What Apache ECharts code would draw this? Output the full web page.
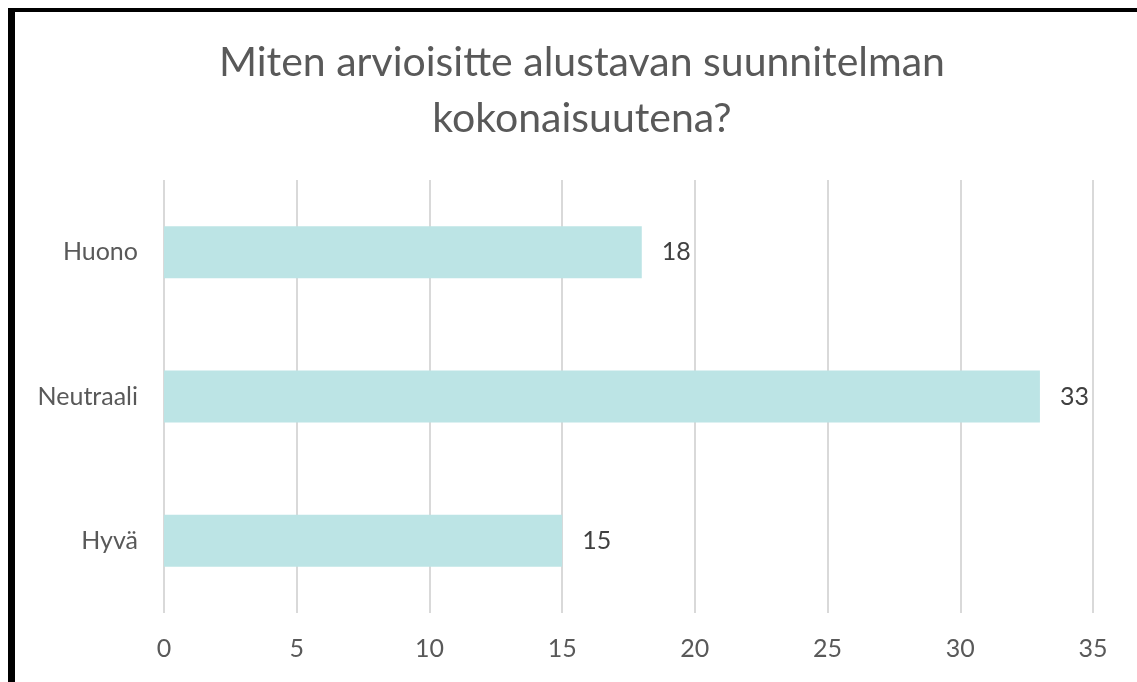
<!DOCTYPE html>
<html>
<head>
<meta charset="utf-8">
<script src="https://cdn.jsdelivr.net/npm/echarts@6/dist/echarts.min.js"></script>
<style>
    html, body { margin: 0; padding: 0; background: #fff; }
    #frame {
        position: absolute; left: 8px; top: 8px; width: 1129px; height: 674px;
        border-left: 7px solid #000; border-top: 4px solid #000; box-sizing: border-box;
    }
    #chart { position: absolute; left: 0; top: 0; width: 1137px; height: 682px; }
</style>
</head>
<body>
<div id="frame"></div>
<div id="chart"></div>
<script>
    const titleText = 'Miten arvioisitte alustavan suunnitelman\nkokonaisuutena?';
    const categories = ['Huono', 'Neutraali', 'Hyvä'];
    const values = [18, 33, 15];
    const xTicks = [0, 5, 10, 15, 20, 25, 30, 35];

    const chart = echarts.init(document.getElementById('chart'));
    const fontFamily = 'Lato, "Open Sans", sans-serif';

    const option = {
        backgroundColor: 'transparent',
        title: {
            text: titleText,
            left: 577,
            textAlign: 'center',
            top: 30,
            textStyle: {
                fontFamily: fontFamily,
                fontSize: 41,
                fontWeight: 'normal',
                color: '#595959',
                lineHeight: 56
            }
        },
        grid: {
            left: 164,
            right: 44,
            top: 180,
            bottom: 69
        },
        xAxis: {
            type: 'value',
            min: xTicks[0],
            max: xTicks[xTicks.length - 1],
            interval: 5,
            axisLine: { show: false },
            axisTick: { show: false },
            axisLabel: {
                margin: 23,
                fontFamily: fontFamily,
                fontSize: 25,
                color: '#595959'
            },
            splitLine: {
                show: true,
                lineStyle: { color: '#d9d9d9', width: 2 }
            }
        },
        yAxis: {
            type: 'category',
            data: categories,
            inverse: true,
            axisLine: { show: false },
            axisTick: { show: false },
            axisLabel: {
                margin: 26,
                fontFamily: fontFamily,
                fontSize: 25,
                color: '#595959'
            }
        },
        series: [
            {
                type: 'bar',
                data: values,
                barWidth: 52,
                itemStyle: { color: '#bce4e5' },
                label: {
                    show: true,
                    position: 'right',
                    distance: 20,
                    fontFamily: fontFamily,
                    fontSize: 25,
                    color: '#404040'
                }
            }
        ]
    };

    chart.setOption(option);
    window.addEventListener('resize', function () { chart.resize(); });
</script>
</body>
</html>
